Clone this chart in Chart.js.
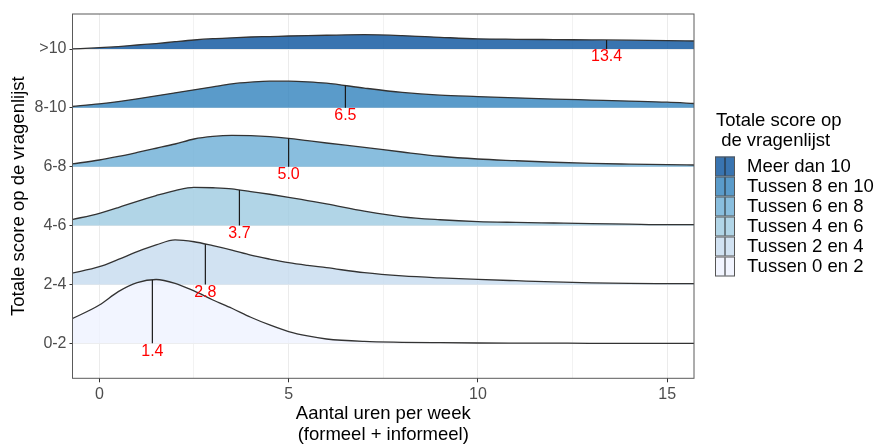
<!DOCTYPE html>
<html>
<head>
<meta charset="utf-8">
<title>Ridgeline</title>
<script src="https://cdn.jsdelivr.net/npm/chart.js@4.4.1/dist/chart.umd.min.js"></script>
<style>
  html, body { margin: 0; padding: 0; background: #fff; }
  canvas { display: block; }
</style>
</head>
<body>
<canvas id="ridgeChart" width="886" height="445"></canvas>
<script>
// groups on the y axis, bottom to top
const groups = ['0-2', '2-4', '4-6', '6-8', '8-10', '>10'];
const legendLabels = ['Tussen 0 en 2', 'Tussen 2 en 4', 'Tussen 4 en 6', 'Tussen 6 en 8', 'Tussen 8 en 10', 'Meer dan 10'];
// Blues palette at alpha 0.8
const fillColors = [
  'rgba(239,243,255,0.8)',
  'rgba(198,219,239,0.8)',
  'rgba(158,202,225,0.8)',
  'rgba(107,174,214,0.8)',
  'rgba(49,130,189,0.8)',
  'rgba(8,81,156,0.8)'
];

// hours per week where the ridges were read
const hours = [-0.75, 0, 0.5, 1, 1.5, 2, 2.5, 3, 3.5, 4, 4.5, 5, 5.5, 6, 7, 8, 9, 10, 11, 12, 13, 14, 15, 15.75];
// ridge heights (1 = gap between two ridges)
const dens0to2 = [0.408, 0.651, 0.878, 1.031, 1.084, 1.019, 0.889, 0.736, 0.595, 0.442, 0.311, 0.199, 0.124, 0.073, 0.031, 0.017, 0.010, 0.005, 0.003, 0.002, 0, 0, 0, 0];
const dens2to4 = [0.187, 0.301, 0.425, 0.556, 0.671, 0.756, 0.725, 0.658, 0.583, 0.498, 0.430, 0.369, 0.323, 0.284, 0.199, 0.144, 0.110, 0.085, 0.063, 0.042, 0.027, 0.017, 0.014, 0.012];
const dens4to6 = [0.097, 0.209, 0.306, 0.413, 0.510, 0.595, 0.650, 0.643, 0.625, 0.578, 0.532, 0.481, 0.425, 0.369, 0.246, 0.148, 0.099, 0.068, 0.054, 0.044, 0.034, 0.025, 0.017, 0.017];
const dens6to8 = [0.046, 0.114, 0.175, 0.243, 0.314, 0.386, 0.471, 0.515, 0.532, 0.527, 0.510, 0.481, 0.442, 0.403, 0.328, 0.250, 0.178, 0.131, 0.102, 0.076, 0.056, 0.044, 0.034, 0.029];
const dens8to10 = [0.022, 0.068, 0.107, 0.153, 0.204, 0.255, 0.306, 0.357, 0.408, 0.437, 0.454, 0.454, 0.443, 0.420, 0.336, 0.263, 0.216, 0.192, 0.170, 0.150, 0.133, 0.116, 0.097, 0.073];
const dens10plus = [0, 0.022, 0.042, 0.068, 0.093, 0.124, 0.153, 0.175, 0.190, 0.204, 0.212, 0.221, 0.228, 0.234, 0.243, 0.228, 0.199, 0.173, 0.165, 0.160, 0.155, 0.150, 0.143, 0.136];
const ridgeHeights = [dens0to2, dens2to4, dens4to6, dens6to8, dens8to10, dens10plus];

// mean hours per group
const means = [1.4, 2.8, 3.7, 5.0, 6.5, 13.4];
const xTicks = [0, 5, 10, 15];
const xMinorTicks = [2.5, 7.5, 12.5];

const FONT = '"Liberation Sans", Arial, Helvetica, sans-serif';
Chart.defaults.font.family = FONT;

// linear lookup of a ridge height at x
const heightAt = (dens, x) => {
  for (let j = 1; j < hours.length; j++) {
    if (x <= hours[j]) {
      const t = (x - hours[j - 1]) / (hours[j] - hours[j - 1]);
      return dens[j - 1] + t * (dens[j] - dens[j - 1]);
    }
  }
  return dens[dens.length - 1];
};

const datasets = groups.map((g, i) => ({
  label: legendLabels[i],
  data: hours.map((h, j) => ({ x: h, y: i + 1 + ridgeHeights[i][j] })),
  fill: { value: i + 1 },
  backgroundColor: fillColors[i],
  borderColor: '#333',
  borderWidth: 1.3,
  pointRadius: 0,
  cubicInterpolationMode: 'monotone',
  order: i
}));

const extras = {
  id: 'extras',
  afterDatasetsDraw(chart) {
    const { ctx, chartArea, scales } = chart;
    const x = scales.x, y = scales.y;
    ctx.save();
    ctx.beginPath();
    ctx.rect(chartArea.left, chartArea.top, chartArea.right - chartArea.left, chartArea.bottom - chartArea.top);
    ctx.clip();
    // mean lines
    means.forEach((m, i) => {
      const px = x.getPixelForValue(m);
      ctx.strokeStyle = '#1a1a1a';
      ctx.lineWidth = 1.2;
      ctx.beginPath();
      ctx.moveTo(px, y.getPixelForValue(i + 1));
      ctx.lineTo(px, y.getPixelForValue(i + 1 + heightAt(ridgeHeights[i], m)));
      ctx.stroke();
    });
    // mean labels
    ctx.fillStyle = '#ff0000';
    ctx.font = '16px ' + FONT;
    ctx.textAlign = 'center';
    ctx.textBaseline = 'middle';
    means.forEach((m, i) => {
      ctx.fillText(m.toFixed(1), x.getPixelForValue(m), y.getPixelForValue(i + 1) + 8);
    });
    ctx.restore();
  },
  afterDraw(chart) {
    const { ctx, chartArea } = chart;
    ctx.save();
    // panel border
    ctx.strokeStyle = '#5a5a5a';
    ctx.lineWidth = 1;
    ctx.strokeRect(chartArea.left, chartArea.top, chartArea.right - chartArea.left, chartArea.bottom - chartArea.top);

    // axis titles
    ctx.fillStyle = '#000';
    ctx.font = '18.5px ' + FONT;
    ctx.textAlign = 'center';
    ctx.textBaseline = 'middle';
    const cx = (chartArea.left + chartArea.right) / 2;
    ctx.fillText('Aantal uren per week', cx, 414);
    ctx.fillText('(formeel + informeel)', cx, 435);
    ctx.save();
    ctx.translate(19, (chartArea.top + chartArea.bottom) / 2);
    ctx.rotate(-Math.PI / 2);
    ctx.fillText('Totale score op de vragenlijst', 0, 0);
    ctx.restore();

    // legend
    ctx.textAlign = 'left';
    ctx.fillText('Totale score op', 716, 121);
    ctx.fillText(' de vragenlijst', 716, 141);
    const keyX = 715, keyW = 20, keyH = 20;
    for (let k = 0; k < groups.length; k++) {
      const i = groups.length - 1 - k;
      const top = 156.5 + k * keyH;
      ctx.fillStyle = '#fff';
      ctx.fillRect(keyX, top, keyW, keyH);
      ctx.fillStyle = fillColors[i];
      ctx.fillRect(keyX, top, keyW, keyH);
      ctx.strokeStyle = '#555';
      ctx.lineWidth = 1;
      ctx.strokeRect(keyX + 0.5, top + 0.5, keyW - 1, keyH - 1);
      ctx.strokeStyle = '#222';
      ctx.beginPath();
      ctx.moveTo(keyX + keyW / 2, top + 1);
      ctx.lineTo(keyX + keyW / 2, top + keyH - 1);
      ctx.stroke();
      ctx.fillStyle = '#000';
      ctx.fillText(legendLabels[i], 747, top + keyH / 2);
    }
    ctx.restore();
  }
};

new Chart(document.getElementById('ridgeChart'), {
  type: 'line',
  data: { datasets: datasets },
  options: {
    responsive: false,
    animation: false,
    layout: { padding: { left: 0, right: 192, top: 14, bottom: 0 } },
    plugins: {
      legend: { display: false },
      tooltip: { enabled: false }
    },
    scales: {
      x: {
        type: 'linear',
        min: -0.71,
        max: 15.71,
        afterBuildTicks: scale => {
          scale.ticks = xTicks.concat(xMinorTicks).sort((a, b) => a - b).map(v => ({ value: v }));
        },
        afterFit: scale => { scale.height = 445 - 378.3; },
        ticks: {
          callback: v => (xTicks.includes(v) ? String(v) : ''),
          color: '#4d4d4d',
          font: { size: 16 },
          padding: 3,
          maxRotation: 0,
          autoSkip: false
        },
        grid: {
          color: c => (c.tick && xMinorTicks.includes(c.tick.value) ? '#f2f2f2' : '#ebebeb'),
          lineWidth: 1,
          tickLength: 4,
          tickColor: c => (c.tick && xMinorTicks.includes(c.tick.value) ? 'rgba(0,0,0,0)' : '#333')
        },
        border: { display: false }
      },
      y: {
        type: 'linear',
        min: 0.405,
        max: 6.595,
        afterBuildTicks: scale => {
          scale.ticks = groups.map((g, i) => ({ value: i + 1 }));
        },
        afterFit: scale => { scale.width = 72.5; },
        ticks: {
          callback: v => groups[v - 1],
          color: '#4d4d4d',
          font: { size: 16 },
          padding: 3
        },
        grid: {
          color: '#ebebeb',
          tickLength: 3,
          tickColor: '#333'
        },
        border: { display: false }
      }
    }
  },
  plugins: [extras]
});
</script>
</body>
</html>
